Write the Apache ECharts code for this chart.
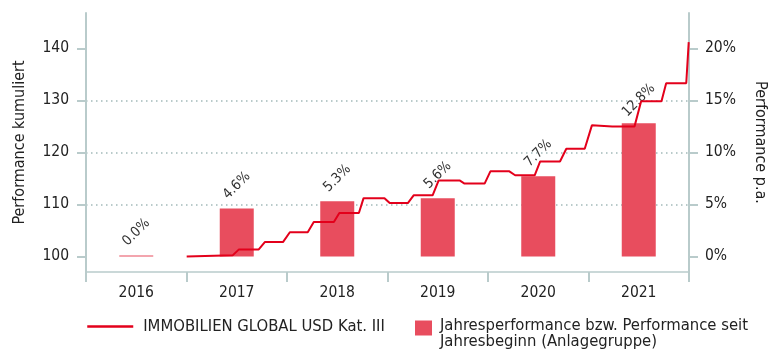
<!DOCTYPE html>
<html>
<head>
<meta charset="utf-8">
<script src="https://cdn.jsdelivr.net/npm/echarts@6/dist/echarts.min.js"></script>
<style>
  html, body { margin: 0; padding: 0; background: #fff; }
  #chart { width: 778px; height: 349px; }
</style>
</head>
<body>
<div id="chart"></div>
<script>
// Calendar years and the yearly performance of the investment group (%)
const years = ['2016', '2017', '2018', '2019', '2020', '2021'];
const yearlyPerformance = [0.0, 4.6, 5.3, 5.6, 7.7, 12.8];

// Cumulative performance of the fund (indexed to 100)
const fundDates = [
  '2017-01-01', '2017-06-17', '2017-07-10', '2017-09-20', '2017-10-12', '2017-12-17',
  '2018-01-11', '2018-03-17', '2018-04-08', '2018-06-20', '2018-07-10', '2018-09-19',
  '2018-10-06', '2018-12-21', '2019-01-09', '2019-03-16', '2019-04-06', '2019-06-14',
  '2019-07-06', '2019-09-20', '2019-10-08', '2019-12-20', '2020-01-10', '2020-03-19',
  '2020-04-09', '2020-06-19', '2020-07-09', '2020-09-19', '2020-10-12', '2020-12-18',
  '2021-01-13', '2021-03-28', '2021-06-17', '2021-07-11', '2021-09-23', '2021-10-10',
  '2021-12-22', '2021-12-31'
];
const fundValues = [
  100.0, 100.2, 101.35, 101.35, 102.75, 102.75,
  104.65, 104.65, 106.6, 106.6, 108.35, 108.35,
  111.2, 111.2, 110.25, 110.25, 111.75, 111.75,
  114.6, 114.6, 114.0, 114.0, 116.35, 116.35,
  115.6, 115.6, 118.25, 118.25, 120.7, 120.7,
  125.2, 125.0, 125.0, 129.85, 129.85, 133.3,
  133.3, 141.2
];

// Tick labels of both value axes
const leftTicks = [100, 110, 120, 130, 140];
const rightTicks = [0, 5, 10, 15, 20];

const lineName = 'IMMOBILIEN GLOBAL USD Kat. III';
const barName = 'Jahresperformance bzw. Performance seit Jahresbeginn (Anlagegruppe)';
const barLegendLines = ['Jahresperformance bzw. Performance seit', 'Jahresbeginn (Anlagegruppe)'];

const FONT = "'DejaVu Sans Condensed', 'Liberation Sans', sans-serif";
const TEXT = '#222';
const AXIS = '#b9cbcb';
const GRID = '#a3b9b9';

const chart = echarts.init(document.getElementById('chart'));

chart.setOption({
  animation: false,
  textStyle: { fontFamily: FONT },
  grid: { left: 86, right: 89, top: 13, bottom: 77, containLabel: false },
  legend: [
    {
      data: [lineName],
      left: 81,
      top: 313,
      itemWidth: 46,
      itemHeight: 14,
      lineStyle: { width: 2.5 },
      itemStyle: { opacity: 0 },
      formatter: n => '{gap| }' + n,
      textStyle: {
        fontFamily: FONT, fontSize: 16.5, color: TEXT,
        rich: { gap: { width: 5 } }
      }
    },
    {
      data: [barName],
      left: 410,
      top: 303,
      icon: 'rect',
      itemWidth: 17,
      itemHeight: 15,
      // a short spacer line on top keeps the first text line level with the swatch
      formatter: () => '{sp| }\n' + barLegendLines.map(l => '{gap| }{t|' + l + '}').join('\n'),
      textStyle: {
        fontFamily: FONT, fontSize: 16.5, color: TEXT,
        rich: {
          sp: { lineHeight: 12, fontSize: 8 },
          gap: { width: 3, lineHeight: 16 },
          t: { fontFamily: FONT, fontSize: 16.5, color: TEXT, lineHeight: 16 }
        }
      }
    }
  ],
  xAxis: [
    {
      type: 'category',
      data: years,
      boundaryGap: true,
      axisLine: { onZero: false, lineStyle: { color: AXIS, width: 1.5 } },
      axisTick: { show: true, length: 10, lineStyle: { color: AXIS, width: 2 } },
      axisLabel: { color: TEXT, fontSize: 15.5, margin: 13, fontFamily: FONT },
      splitLine: { show: false }
    },
    {
      type: 'time',
      show: false,
      min: new Date(2016, 0, 1).getTime(),
      max: new Date(2022, 0, 1).getTime()
    }
  ],
  yAxis: [
    {
      type: 'value',
      position: 'left',
      min: 97,
      max: 146.8,
      name: 'Performance kumuliert',
      nameLocation: 'middle',
      nameGap: 58,
      nameTextStyle: { color: TEXT, fontSize: 16, fontFamily: FONT },
      axisLine: { show: true, onZero: false, lineStyle: { color: AXIS, width: 2 } },
      axisTick: { show: true, length: 9, customValues: leftTicks, lineStyle: { color: AXIS, width: 2 } },
      axisLabel: { color: TEXT, fontSize: 15.5, margin: 17, customValues: leftTicks, fontFamily: FONT },
      splitLine: {
        show: true,
        showMinLine: false,
        showMaxLine: false,
        lineStyle: { color: GRID, width: 1.5, type: [1.5, 3.5] }
      }
    },
    {
      type: 'value',
      position: 'right',
      min: -1.5,
      max: 23.4,
      name: 'Performance p.a.',
      nameLocation: 'middle',
      nameGap: 63,
      nameRotate: -90,
      nameTextStyle: { color: TEXT, fontSize: 16, fontFamily: FONT },
      axisLine: { show: true, onZero: false, lineStyle: { color: AXIS, width: 2 } },
      axisTick: { show: true, length: 9, customValues: rightTicks, lineStyle: { color: AXIS, width: 2 } },
      axisLabel: {
        color: TEXT, fontSize: 15.5, margin: 16, customValues: rightTicks, fontFamily: FONT,
        formatter: v => v + '%'
      },
      splitLine: { show: false }
    }
  ],
  series: [
    {
      name: barName,
      type: 'bar',
      xAxisIndex: 0,
      yAxisIndex: 1,
      data: yearlyPerformance,
      barWidth: 34,
      barMinHeight: 1,
      z: 2,
      itemStyle: { color: '#e84d5e' },
      label: {
        show: true,
        position: 'top',
        distance: 23,
        rotate: 45,
        align: 'center',
        verticalAlign: 'middle',
        color: '#333',
        fontSize: 14,
        fontFamily: FONT,
        formatter: p => p.value.toFixed(1) + '%'
      }
    },
    {
      name: lineName,
      type: 'line',
      xAxisIndex: 1,
      yAxisIndex: 0,
      data: fundDates.map((d, i) => [d, fundValues[i]]),
      symbol: 'none',
      z: 3,
      lineStyle: { color: '#e3001b', width: 2 },
      itemStyle: { color: '#e3001b' }
    }
  ]
});
</script>
</body>
</html>
